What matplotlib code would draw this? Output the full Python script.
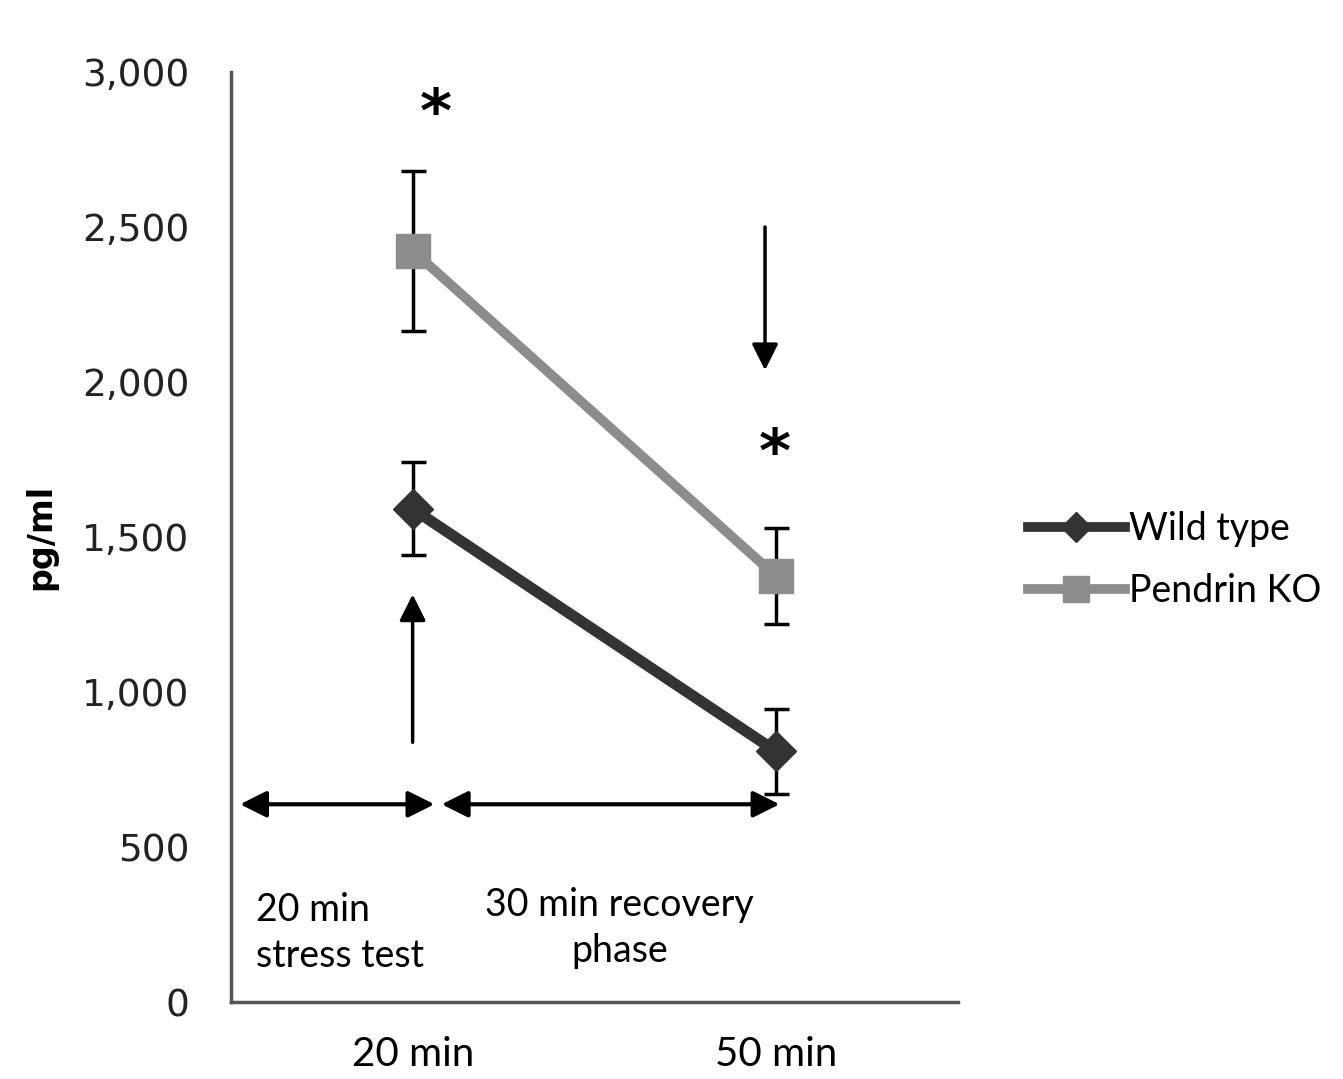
import numpy as np
import matplotlib.pyplot as plt
from matplotlib.lines import Line2D

# data
categories = ['20 min', '50 min']
wild_type = [1592, 810]
wild_type_err = [150, 137]
pendrin_ko = [2425, 1375]
pendrin_ko_err = [258, 155]
yticks = [0, 500, 1000, 1500, 2000, 2500, 3000]

fig = plt.figure(figsize=(13.43, 10.79), dpi=100)
ax = fig.add_axes([0.172, 0.071, 0.541, 0.862])

x = np.arange(len(categories))
ebkw = dict(ecolor='black', elinewidth=2.5, capsize=9, capthick=2.5, zorder=2)

ax.errorbar(x, pendrin_ko, yerr=pendrin_ko_err, fmt='none', **ebkw)
ax.errorbar(x, wild_type, yerr=wild_type_err, fmt='none', **ebkw)
ax.plot(x, pendrin_ko, color='#8c8c8c', lw=7, marker='s', ms=25, zorder=3,
        label='Pendrin KO')
ax.plot(x, wild_type, color='#333333', lw=8, marker='D', ms=20, zorder=4,
        label='Wild type')

ax.set_xlim(-0.5, 1.5)
ax.set_ylim(0, 3000)
ax.set_xticks(x)
ax.set_xticklabels(categories, family='Lato', fontsize=29)
ax.set_yticks(yticks)
ax.set_yticklabels(['{:,}'.format(v) for v in yticks], fontsize=27, color='#222222')
ax.tick_params(length=0, pad=30)
ax.tick_params(axis='x', pad=24)
ax.set_ylabel('pg/ml', fontsize=24, fontweight='bold', labelpad=18)

for side in ['top', 'right']:
    ax.spines[side].set_visible(False)
for side in ['left', 'bottom']:
    ax.spines[side].set_color('#555555')
    ax.spines[side].set_linewidth(2.5)

# arrows and annotations
akw = dict(arrowstyle='-|>', color='black', lw=2.5, mutation_scale=40)
ax.annotate('', xy=(0.97, 2030), xytext=(0.97, 2510), arrowprops=akw)
ax.annotate('', xy=(0, 1325), xytext=(0, 830), arrowprops=akw)
dkw = dict(arrowstyle='<|-|>', color='black', lw=3, mutation_scale=40,
           shrinkA=0, shrinkB=0)
ax.annotate('', xy=(0.06, 639), xytext=(-0.475, 639), arrowprops=dkw)
ax.annotate('', xy=(1.01, 639), xytext=(0.08, 639), arrowprops=dkw)

ax.text(0.064, 2860, '*', fontsize=44, fontweight='bold', ha='center', va='center')
ax.text(0.997, 1765, '*', fontsize=44, fontweight='bold', ha='center', va='center')

ax.text(-0.43, 225, '20 min\nstress test', family='Lato', fontsize=27,
        ha='left', va='center', linespacing=1.35)
ax.text(0.57, 240, '30 min recovery\nphase', family='Lato', fontsize=27,
        ha='center', va='center', linespacing=1.35)

handles = [Line2D([], [], color='#333333', lw=7, marker='D', ms=15),
           Line2D([], [], color='#8c8c8c', lw=7, marker='s', ms=19)]
fig.legend(handles, ['Wild type', 'Pendrin KO'], loc='center left',
           bbox_to_anchor=(0.74, 0.481), frameon=False,
           prop={'family': 'Lato', 'size': 27},
           handlelength=2.6, handletextpad=0.1, labelspacing=0.68)

fig.savefig('out.png', dpi=100)
